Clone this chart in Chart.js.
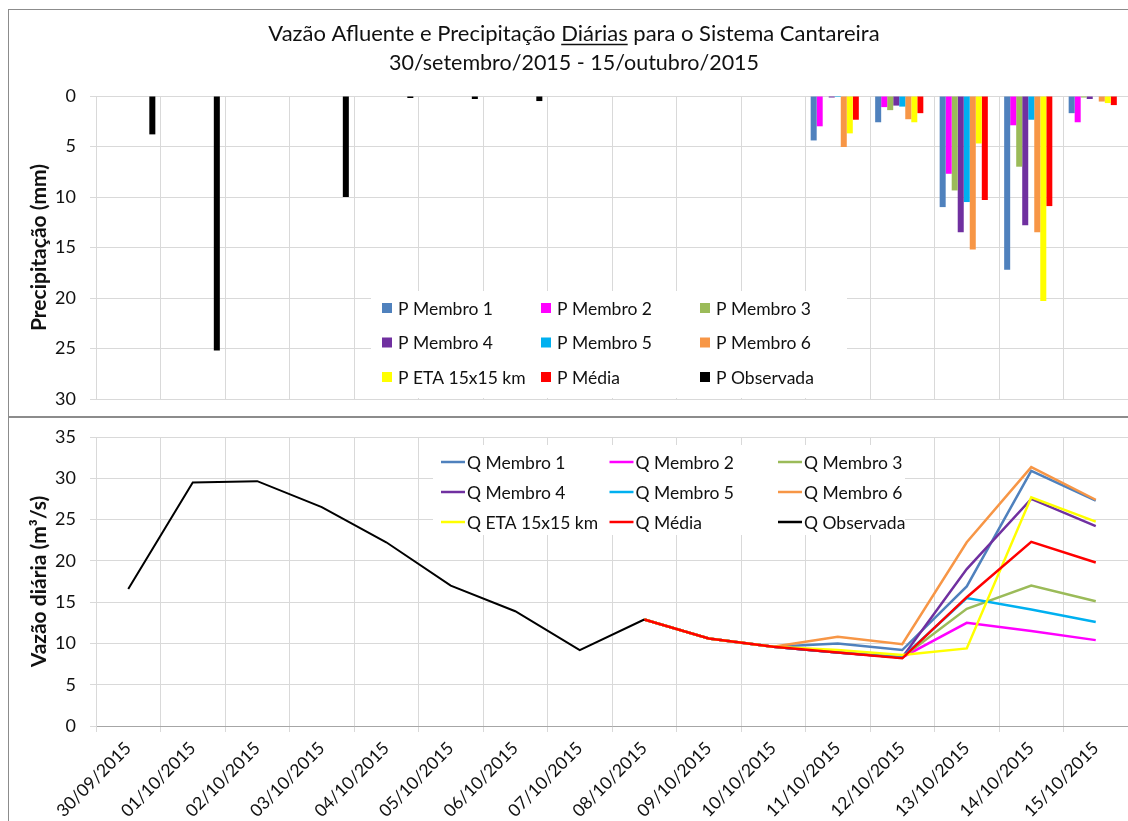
<!DOCTYPE html>
<html>
<head>
<meta charset="utf-8">
<script src="https://cdn.jsdelivr.net/npm/chart.js@4.4.1/dist/chart.umd.min.js"></script>
<style>
  html, body { margin: 0; padding: 0; background: #fff; }
  #wrap { position: relative; width: 1128px; height: 821px; overflow: hidden; }
  canvas { position: absolute; left: 0; }
  #precip { top: 0; }
  #vazao { top: 418px; }
  .rule { position: absolute; background: #8c8c8c; }
</style>
</head>
<body>
<div id="wrap">
  <canvas id="precip" width="1128" height="417"></canvas>
  <canvas id="vazao" width="1128" height="403"></canvas>
  <div class="rule" style="left:8px;top:9px;width:1px;height:812px"></div>
  <div class="rule" style="left:8px;top:9px;width:1120px;height:1px"></div>
  <div class="rule" style="left:8px;top:416px;width:1120px;height:2px"></div>
</div>
<script>
// dates
const labels = ['30/09/2015', '01/10/2015', '02/10/2015', '03/10/2015', '04/10/2015', '05/10/2015',
  '06/10/2015', '07/10/2015', '08/10/2015', '09/10/2015', '10/10/2015', '11/10/2015',
  '12/10/2015', '13/10/2015', '14/10/2015', '15/10/2015'];

const titleParts = ['Vazão Afluente e Precipitação ', 'Diárias', ' para o Sistema Cantareira'];
const subtitle = '30/setembro/2015 - 15/outubro/2015';

// precipitação (mm)
const pMembro1 = [0, 0, 0, 0, 0, 0, 0, 0, 0, 0, 0, 4.4, 2.6, 11.0, 17.2, 1.7];
const pMembro2 = [0, 0, 0, 0, 0, 0, 0, 0, 0, 0, 0, 3.0, 1.1, 7.7, 2.9, 2.6];
const pMembro3 = [0, 0, 0, 0, 0, 0, 0, 0, 0, 0, 0, 0, 1.4, 9.35, 7.0, 0.15];
const pMembro4 = [0, 0, 0, 0, 0, 0, 0, 0, 0, 0, 0, 0.15, 0.95, 13.5, 12.8, 0.3];
const pMembro5 = [0, 0, 0, 0, 0, 0, 0, 0, 0, 0, 0, 0.1, 1.05, 10.5, 2.35, 0.05];
const pMembro6 = [0, 0, 0, 0, 0, 0, 0, 0, 0, 0, 0, 5.05, 2.3, 15.2, 13.5, 0.55];
const pEta = [0, 0, 0, 0, 0, 0, 0, 0, 0, 0, 0, 3.7, 2.6, 4.7, 20.3, 0.7];
const pMedia = [0, 0, 0, 0, 0, 0, 0, 0, 0, 0, 0, 2.35, 1.7, 10.3, 10.9, 0.9];
const pObservada = [3.8, 25.2, 0, 10.0, 0.2, 0.3, 0.5, 0, 0, 0, 0, 0, 0, 0, 0, 0];

// vazão (m3/s)
const qMembro1 = [null, null, null, null, null, null, null, null, 12.9, 10.6, 9.6, 10.0, 9.2, 16.9, 30.9, 27.3];
const qMembro2 = [null, null, null, null, null, null, null, null, 12.9, 10.6, 9.6, 8.9, 8.3, 12.5, 11.5, 10.4];
const qMembro3 = [null, null, null, null, null, null, null, null, 12.9, 10.6, 9.6, 8.9, 8.3, 14.2, 17.0, 15.1];
const qMembro4 = [null, null, null, null, null, null, null, null, 12.9, 10.6, 9.6, 8.9, 8.3, 19.0, 27.5, 24.2];
const qMembro5 = [null, null, null, null, null, null, null, null, 12.9, 10.6, 9.6, 8.9, 8.3, 15.5, 14.1, 12.6];
const qMembro6 = [null, null, null, null, null, null, null, null, 12.9, 10.6, 9.6, 10.8, 9.9, 22.25, 31.35, 27.4];
const qEta = [null, null, null, null, null, null, null, null, 12.9, 10.6, 9.6, 9.2, 8.6, 9.4, 27.7, 24.75];
const qMedia = [null, null, null, null, null, null, null, null, 12.9, 10.6, 9.6, 8.9, 8.2, 15.6, 22.3, 19.8];
const qObservada = [16.6, 29.5, 29.65, 26.5, 22.25, 17.0, 13.9, 9.2, 12.9, null, null, null, null, null, null, null];

const cores = ['#4f81bd', '#ff00ff', '#9bbb59', '#7030a0', '#00b0f0', '#f79646', '#ffff00', '#ff0000', '#000000'];
const nomes = ['Membro 1', 'Membro 2', 'Membro 3', 'Membro 4', 'Membro 5', 'Membro 6', 'ETA 15x15 km', 'Média', 'Observada'];

const FONT = 'Lato';
const GRID = '#d9d9d9';
const TXT = '#111';

// titulo com "Diárias" sublinhado
const titlePlugin = {
  id: 'titleLines',
  afterDraw(chart) {
    const ctx = chart.ctx;
    const cx = 574;
    ctx.save();
    ctx.fillStyle = TXT;
    ctx.strokeStyle = TXT;
    ctx.textBaseline = 'alphabetic';
    ctx.font = '22px ' + FONT;
    const w = titleParts.map(p => ctx.measureText(p).width);
    let x = cx - (w[0] + w[1] + w[2]) / 2;
    const y1 = 41;
    titleParts.forEach((p, i) => {
      ctx.fillText(p, x, y1);
      if (i === 1) {
        ctx.lineWidth = 1.3;
        ctx.beginPath();
        ctx.moveTo(x, y1 + 3.5);
        ctx.lineTo(x + w[i], y1 + 3.5);
        ctx.stroke();
      }
      x += w[i];
    });
    ctx.font = '21.5px ' + FONT;
    ctx.textAlign = 'center';
    ctx.fillText(subtitle, cx, 70);
    ctx.restore();
  }
};

// legenda dentro da area do grafico, 3 colunas
const boxLegend = {
  id: 'boxLegend',
  afterDatasetsDraw(chart, args, o) {
    const ctx = chart.ctx;
    ctx.save();
    ctx.fillStyle = '#fff';
    ctx.fillRect(o.x, o.y, o.w, o.h);
    ctx.font = o.size + 'px ' + FONT;
    ctx.textBaseline = 'middle';
    chart.data.datasets.forEach((ds, i) => {
      const x = o.x + o.left + (i % 3) * o.colW;
      const y = o.y + o.top + Math.floor(i / 3) * o.rowH;
      if (o.symbol === 'box') {
        ctx.fillStyle = ds.backgroundColor;
        ctx.fillRect(x, y - 5, 10, 10);
      } else {
        ctx.strokeStyle = ds.borderColor;
        ctx.lineWidth = 2.5;
        ctx.beginPath();
        ctx.moveTo(x, y);
        ctx.lineTo(x + 24, y);
        ctx.stroke();
      }
      ctx.fillStyle = TXT;
      ctx.fillText(ds.label, x + o.gap, y + 1);
    });
    ctx.restore();
  }
};

// eixo y com largura fixa e sem folga extra em cima/embaixo
function fixY(s) {
  s.width = 96;
  s.paddingTop = 0;
  s.paddingBottom = 0;
}

const pSeries = [pMembro1, pMembro2, pMembro3, pMembro4, pMembro5, pMembro6, pEta, pMedia, pObservada];
const qSeries = [qMembro1, qMembro2, qMembro3, qMembro4, qMembro5, qMembro6, qEta, qMedia, qObservada];

new Chart(document.getElementById('precip'), {
  type: 'bar',
  data: {
    labels: labels,
    datasets: pSeries.map((d, i) => ({
      label: 'P ' + nomes[i],
      data: d,
      backgroundColor: cores[i],
      borderWidth: 0,
      categoryPercentage: 0.84,
      barPercentage: 1.0
    }))
  },
  options: {
    responsive: false,
    animation: false,
    layout: { padding: { top: 96, left: 0, right: 0, bottom: 0 } },
    plugins: {
      legend: { display: false },
      tooltip: { enabled: false },
      boxLegend: { x: 371, y: 291, w: 476, h: 107, left: 11, top: 17, colW: 159, rowH: 34.5, gap: 16, size: 17.5, symbol: 'box' }
    },
    scales: {
      x: {
        offset: true,
        grid: { offset: true, color: GRID, tickLength: 0 },
        border: { color: GRID },
        ticks: { display: false },
        afterFit(s) { s.height = 18; }
      },
      y: {
        reverse: true,
        min: 0,
        max: 30,
        ticks: { stepSize: 5, padding: 14, color: TXT, font: { family: FONT, size: 18 } },
        grid: { color: GRID, tickLength: 6 },
        border: { color: GRID },
        title: {
          display: true,
          text: 'Precipitação (mm)',
          color: TXT,
          font: { family: FONT, size: 21, weight: 'bold' },
          padding: { top: 27, bottom: 0 }
        },
        afterFit: fixY
      }
    }
  },
  plugins: [titlePlugin, boxLegend]
});

new Chart(document.getElementById('vazao'), {
  type: 'line',
  data: {
    labels: labels,
    datasets: qSeries.map((d, i) => ({
      label: 'Q ' + nomes[i],
      data: d,
      borderColor: cores[i],
      backgroundColor: cores[i],
      borderWidth: i === 8 ? 2 : 2.5,
      pointRadius: 0,
      tension: 0,
      order: qSeries.length - i
    }))
  },
  options: {
    responsive: false,
    animation: false,
    layout: { padding: { top: 19, left: 0, right: 0, bottom: 0 } },
    plugins: {
      legend: { display: false },
      tooltip: { enabled: false },
      boxLegend: { x: 433, y: 27, w: 472, h: 90, left: 8, top: 17, colW: 168.5, rowH: 30, gap: 26, size: 17.5, symbol: 'line' }
    },
    scales: {
      x: {
        offset: true,
        grid: { offset: true, color: GRID, tickLength: 6 },
        border: { color: '#a6a6a6' },
        ticks: { minRotation: 45, maxRotation: 45, padding: 6, color: TXT, font: { family: FONT, size: 17.5 } },
        afterFit(s) { s.height = 95; }
      },
      y: {
        min: 0,
        max: 35,
        ticks: { stepSize: 5, padding: 14, color: TXT, font: { family: FONT, size: 18 } },
        grid: { color: GRID, tickLength: 6 },
        border: { color: GRID },
        title: {
          display: true,
          text: 'Vazão diária (m³/s)',
          color: TXT,
          font: { family: FONT, size: 21, weight: 'bold' },
          padding: { top: 27, bottom: 0 }
        },
        afterFit: fixY
      }
    }
  },
  plugins: [boxLegend]
});
</script>
</body>
</html>
